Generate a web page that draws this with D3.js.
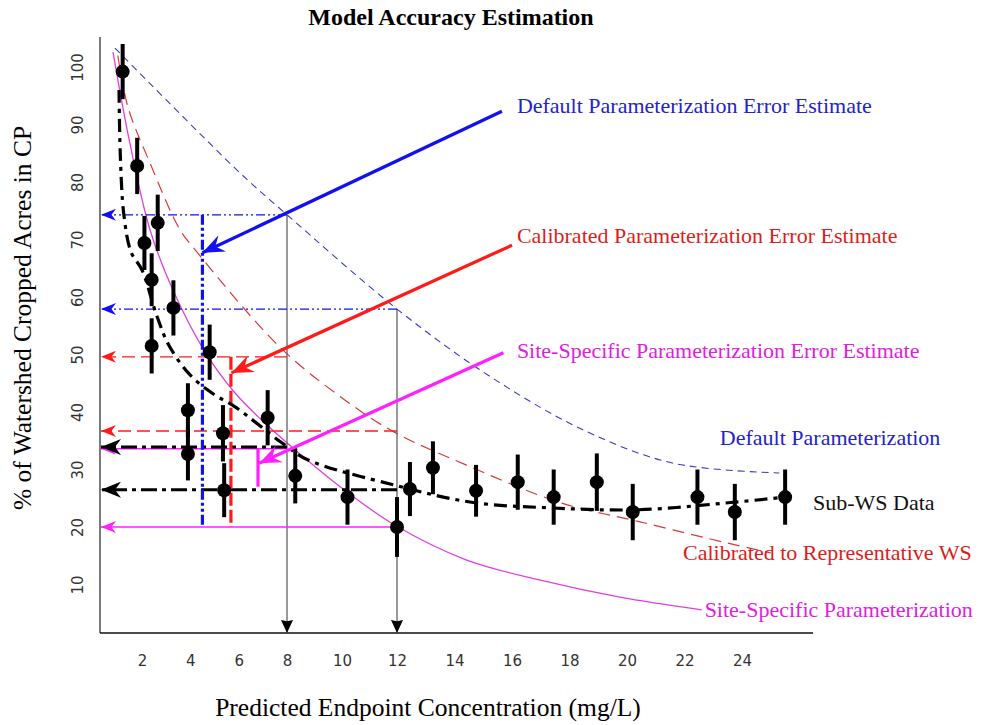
<!DOCTYPE html>
<html>
<head>
<meta charset="utf-8">
<script src="https://cdn.jsdelivr.net/npm/d3@7"></script>
<style>
  body { margin: 0; background: #fff; }
  svg { display: block; }
  .tick text { font-family: 'DejaVu Sans', sans-serif; fill: #333; font-size: 15px; }
  .serif { font-family: 'Liberation Serif', 'Times New Roman', serif; }
</style>
</head>
<body>
<div id="chart"></div>
<script>
// ---- data ----
const xTicks = [2, 4, 6, 8, 10, 12, 14, 16, 18, 20, 22, 24];
const yTicks = [10, 20, 30, 40, 50, 60, 70, 80, 90, 100];

// Sub-WS observations (concentration, % acres, half error bar)
const obsX = [1.2, 1.8, 2.1, 2.65, 2.4, 2.4, 3.3, 4.8, 3.9, 3.9, 5.35, 5.4, 7.2, 8.3, 10.2, 12.0, 12.45, 13.25, 14.75, 16.2, 17.45, 18.95, 20.2, 22.45, 23.75, 25.5];
const obsY = [99.2, 82.8, 69.4, 72.9, 63.0, 51.5, 58.1, 50.4, 40.3, 32.7, 36.3, 26.4, 39.0, 28.9, 25.2, 20.0, 26.6, 30.3, 26.3, 27.8, 25.2, 27.8, 22.6, 25.2, 22.6, 25.2];
const obsErr = [4.8, 4.9, 4.7, 4.9, 4.6, 4.8, 4.8, 4.8, 4.7, 4.6, 4.9, 4.7, 4.8, 4.8, 4.8, 5.2, 4.7, 4.6, 4.5, 4.8, 4.8, 5.0, 4.9, 4.8, 4.9, 4.8];

// fitted curve through the Sub-WS data
const fitX = [1.05, 1.1, 1.25, 1.55, 2.0, 2.6, 3.1, 4.0, 5.0, 5.85, 7.8, 8.75, 11.9, 14.6, 17.45, 20.4, 23.7, 25.5];
const fitY = [96, 85, 74.3, 67.8, 64.7, 56.9, 51.7, 46.4, 43, 40.9, 34.6, 31.7, 27.3, 24.3, 23.3, 23.0, 24.3, 25.2];

// model curves
const defX = [0.88, 6.05, 8, 12, 15.2, 18.47, 21.6, 25.3];
const defY = [103.3, 81.6, 74.3, 57.9, 46.3, 36.9, 31.1, 29.4];
const calX = [1.0, 1.42, 2.33, 3.57, 4.2, 7.7, 10.1, 11.9, 14.4, 17.7, 20.45, 23.5, 25];
const calY = [102, 93.0, 83.3, 71.7, 68.2, 51.3, 42.1, 36.5, 30.8, 24.2, 20.9, 17.2, 15.5];
const siteX = [0.8, 1.5, 2.33, 3.28, 4.6, 5.85, 6.95, 8.3, 10.1, 11.93, 14.4, 16.95, 19.75, 22.6];
const siteY = [102.6, 86.7, 71.7, 61.2, 50.5, 43.3, 38.6, 33.4, 26.4, 20.3, 14.3, 10.8, 7.8, 5.6];

// read-off points at concentration 8 and 12
const readX = [8, 12];
const defRead = [74.3, 57.9];
const calRead = [49.6, 36.7];
const siteRead = [33.6, 20.0];
const subRead = [33.9, 26.5];

// error-estimate bars: [x, yTop, yBottom]
const defBar = [4.5, 74.3, 20.0];
const calBar = [5.68, 49.6, 20.0];
const siteBar = [6.8, 33.6, 27.0];

// callout arrows: [x0, y0, x1, y1]
const defArrow = [15.65, 92.3, 4.5, 67.7];
const calArrow = [16.0, 69.0, 5.7, 46.8];
const siteArrow = [15.7, 50.3, 6.85, 31.1];

const labels = [
  { text: 'Default Parameterization Error Estimate', x: 16.17, y: 92.0, color: '#2222cc' },
  { text: 'Calibrated Parameterization Error Estimate', x: 16.17, y: 69.4, color: '#dd1c1c' },
  { text: 'Site-Specific Parameterization Error Estimate', x: 16.17, y: 49.4, color: '#e020e0' },
  { text: 'Default Parameterization', x: 23.23, y: 34.3, color: '#2222cc' },
  { text: 'Sub-WS Data', x: 26.47, y: 23.0, color: '#111' },
  { text: 'Calibrated to Representative WS', x: 21.95, y: 14.3, color: '#dd1c1c' },
  { text: 'Site-Specific Parameterization', x: 22.7, y: 4.35, color: '#e020e0' }
];

// ---- chart ----
const width = 982, height = 725;
const plot = { left: 100, right: 813, top: 37, bottom: 633 };

const svg = d3.select('#chart').append('svg')
  .attr('width', width)
  .attr('height', height);

const x = d3.scaleLinear().domain([2, 8, 12, 24]).range([142, 287, 397, 742]);
const y = d3.scaleLinear().domain([0, 100]).range([642, 67]);

const BLUE = '#1010f0', RED = '#ff1a1a', MAG = '#ff20ff', BLACK = '#000';

const defs = svg.append('defs');
function marker(id, color, len, half, notch) {
  defs.append('marker')
    .attr('id', id)
    .attr('viewBox', `0 ${-half} ${len} ${half * 2}`)
    .attr('refX', len)
    .attr('refY', 0)
    .attr('markerWidth', len)
    .attr('markerHeight', half * 2)
    .attr('markerUnits', 'userSpaceOnUse')
    .attr('orient', 'auto')
    .append('path')
    .attr('d', `M0,${-half}L${len},0L0,${half}L${len * notch},0Z`)
    .attr('fill', color);
}
marker('hBlue', BLUE, 15, 6, 0.3);
marker('hRed', RED, 15, 6, 0.3);
marker('hMag', MAG, 15, 6, 0.3);
marker('hBlack', BLACK, 20, 8, 0.3);
marker('down', BLACK, 13, 6, 0.1);
marker('aBlue', BLUE, 22, 9, 0.35);
marker('aRed', RED, 22, 9, 0.35);
marker('aMag', MAG, 22, 9, 0.35);

// axes
svg.append('line')
  .attr('x1', plot.left).attr('x2', plot.left)
  .attr('y1', plot.top).attr('y2', plot.bottom)
  .attr('stroke', '#7a7a7a').attr('stroke-width', 2);
svg.append('line')
  .attr('x1', plot.left).attr('x2', plot.right)
  .attr('y1', plot.bottom).attr('y2', plot.bottom)
  .attr('stroke', '#111').attr('stroke-width', 1.5);

const xAxis = d3.axisBottom(x).tickValues(xTicks).tickSize(0).tickPadding(22);
svg.append('g')
  .attr('transform', `translate(0,${plot.bottom})`)
  .call(xAxis)
  .call(g => g.select('.domain').remove());

const yAxis = d3.axisLeft(y).tickValues(yTicks).tickSize(0);
svg.append('g')
  .attr('transform', `translate(${plot.left},0)`)
  .call(yAxis)
  .call(g => g.select('.domain').remove())
  .call(g => g.selectAll('.tick text')
    .attr('x', 0).attr('dy', 0)
    .attr('text-anchor', 'middle')
    .attr('transform', 'translate(-17,0) rotate(-90)'));

// model curves
const line = d3.line().x(d => x(d[0])).y(d => y(d[1])).curve(d3.curveCatmullRom.alpha(0.5));
const zip = (a, b) => a.map((v, i) => [v, b[i]]);

svg.append('path').datum(zip(defX, defY))
  .attr('d', line).attr('fill', 'none')
  .attr('stroke', '#3a3ac8').attr('stroke-width', 1.1).attr('stroke-dasharray', '7,5');
svg.append('path').datum(zip(calX, calY))
  .attr('d', line).attr('fill', 'none')
  .attr('stroke', '#d83a3a').attr('stroke-width', 1.2).attr('stroke-dasharray', '12,7');
svg.append('path').datum(zip(siteX, siteY))
  .attr('d', line).attr('fill', 'none')
  .attr('stroke', '#e040e0').attr('stroke-width', 1.3);

// vertical guides from the read-off points down to the x axis
svg.selectAll('.guide')
  .data(readX)
  .enter()
  .append('line')
  .attr('class', 'guide')
  .attr('x1', d => x(d)).attr('x2', d => x(d))
  .attr('y1', (d, i) => y(defRead[i]))
  .attr('y2', plot.bottom)
  .attr('stroke', '#555').attr('stroke-width', 1.2)
  .attr('marker-end', 'url(#down)');

// horizontal read-off arrows to the y axis
function readLines(values, color, widthPx, dash, mark) {
  svg.append('g')
    .selectAll('line')
    .data(values)
    .enter()
    .append('line')
    .attr('x1', (d, i) => x(readX[i]))
    .attr('x2', plot.left + 1)
    .attr('y1', d => y(d)).attr('y2', d => y(d))
    .attr('stroke', color).attr('stroke-width', widthPx)
    .attr('stroke-dasharray', dash)
    .attr('marker-end', `url(#${mark})`);
}
readLines(defRead, BLUE, 1.3, '9,3,2,3,2,3', 'hBlue');
readLines(calRead, RED, 1.3, '13,6', 'hRed');
readLines(siteRead, MAG, 1.6, null, 'hMag');
readLines(subRead, BLACK, 3, '16,5,4,5', 'hBlack');

// error-estimate bars
function estBar(b, color, dash) {
  svg.append('line')
    .attr('x1', x(b[0])).attr('x2', x(b[0]))
    .attr('y1', y(b[1])).attr('y2', y(b[2]))
    .attr('stroke', color).attr('stroke-width', 3.2)
    .attr('stroke-dasharray', dash);
}
estBar(defBar, BLUE, '10,3,3,3,3,3');
estBar(calBar, RED, '13,4');
estBar(siteBar, MAG, null);

// fitted Sub-WS curve
svg.append('path').datum(zip(fitX, fitY))
  .attr('d', line).attr('fill', 'none')
  .attr('stroke', BLACK).attr('stroke-width', 3.2)
  .attr('stroke-dasharray', '13,6,4,6');

// observations with error bars
const obs = obsX.map((v, i) => ({ x: v, y: obsY[i], e: obsErr[i] }));
const pts = svg.append('g').selectAll('g').data(obs).enter().append('g');
pts.append('line')
  .attr('x1', d => x(d.x)).attr('x2', d => x(d.x))
  .attr('y1', d => y(d.y + d.e)).attr('y2', d => y(d.y - d.e))
  .attr('stroke', BLACK).attr('stroke-width', 4);
pts.append('circle')
  .attr('cx', d => x(d.x)).attr('cy', d => y(d.y))
  .attr('r', 7).attr('fill', BLACK);

// callout arrows
function callout(a, color, mark) {
  svg.append('line')
    .attr('x1', x(a[0])).attr('y1', y(a[1]))
    .attr('x2', x(a[2])).attr('y2', y(a[3]))
    .attr('stroke', color).attr('stroke-width', 3.2)
    .attr('marker-end', `url(#${mark})`);
}
callout(defArrow, BLUE, 'aBlue');
callout(calArrow, RED, 'aRed');
callout(siteArrow, MAG, 'aMag');

// labels
svg.append('g')
  .selectAll('text')
  .data(labels)
  .enter()
  .append('text')
  .attr('class', 'serif')
  .attr('x', d => x(d.x))
  .attr('y', d => y(d.y))
  .attr('font-size', 22)
  .attr('fill', d => d.color)
  .text(d => d.text);

// titles
svg.append('text')
  .attr('class', 'serif')
  .attr('x', 451).attr('y', 25)
  .attr('text-anchor', 'middle')
  .attr('font-size', 24).attr('font-weight', 'bold')
  .text('Model Accuracy Estimation');

svg.append('text')
  .attr('class', 'serif')
  .attr('x', 428).attr('y', 716)
  .attr('text-anchor', 'middle')
  .attr('font-size', 25.5)
  .text('Predicted Endpoint Concentration (mg/L)');

svg.append('text')
  .attr('class', 'serif')
  .attr('transform', 'translate(31,318) rotate(-90)')
  .attr('text-anchor', 'middle')
  .attr('font-size', 25.5)
  .text('% of Watershed Cropped Acres in CP');
</script>
</body>
</html>
